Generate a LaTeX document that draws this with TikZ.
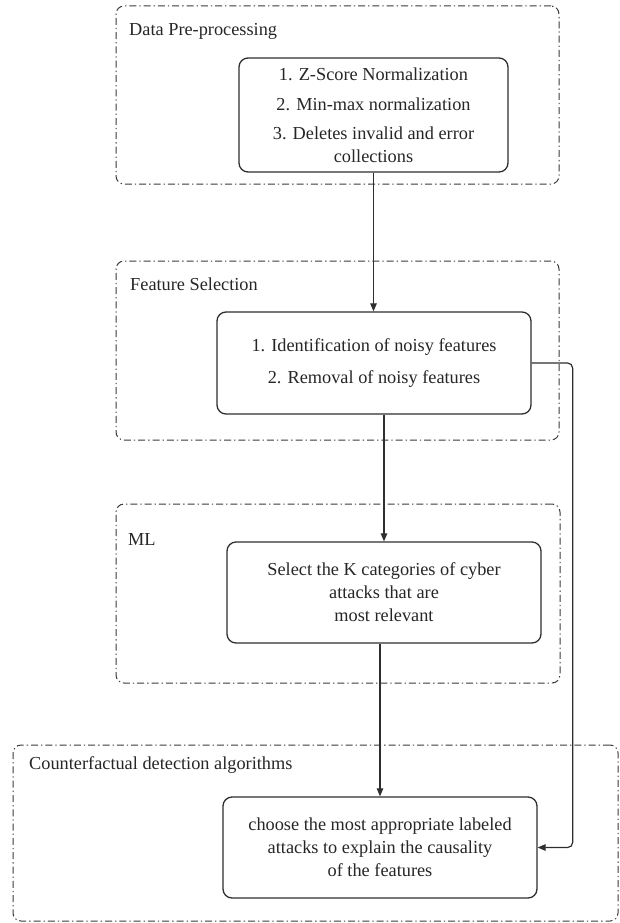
\documentclass[tikz,border=0pt]{standalone}
\usepackage{fontspec}
\setmainfont{Liberation Serif}
\usetikzlibrary{arrows.meta}
\definecolor{framegray}{HTML}{3A3A3A}
\definecolor{linegray}{HTML}{2E2E2E}
\definecolor{textgray}{HTML}{262626}
\newcommand\diagfont{\fontsize{18.3}{23}\selectfont}
\begin{document}
\begin{tikzpicture}[x=1pt,y=-1pt,
  stage/.style={draw=framegray, line width=1pt,
    dash pattern=on 7pt off 3pt on 1.3pt off 3pt,
    rounded corners=8pt, inner sep=0pt},
  stepbox/.style={draw=linegray, line width=1.3pt, rounded corners=9pt,
    inner sep=0pt, align=center, text=textgray, font=\diagfont},
  heading/.style={anchor=base west, inner sep=0pt, text=textgray, font=\diagfont},
  flow/.style={draw=linegray, line width=1.2pt,
    -{Triangle[length=8pt,width=6.5pt]}}
]
\useasboundingbox (0,0) rectangle (620,923);

% stage frames
\node[stage, minimum width=443pt, minimum height=178pt] (f1) at (337.5,95) {};
\node[stage, minimum width=443pt, minimum height=179pt] (f2) at (337.5,350.5) {};
\node[stage, minimum width=444pt, minimum height=179pt] (f3) at (338,593.5) {};
\node[stage, minimum width=605pt, minimum height=176pt] (f4) at (315.5,833) {};

% stage headings
\node[heading] (h1) at (129,36) {Data Pre-processing};
\node[heading] (h2) at (130,290) {Feature Selection};
\node[heading] (h3) at (128,545) {ML};
\node[heading] (h4) at (29,769) {Counterfactual detection algorithms};

% processing steps
\node[stepbox, minimum width=269pt, minimum height=114pt] (b1) at (373.5,115)
  {1. Z-Score Normalization\\[6.5pt]2. Min-max normalization\\[6pt]3. Deletes invalid and error\\collections};
\node[stepbox, minimum width=314pt, minimum height=102pt] (b2) at (374,363)
  {1. Identification of noisy features\\[9pt]2. Removal of noisy features};
\node[stepbox, minimum width=314pt, minimum height=101pt] (b3) at (384,592.5)
  {Select the K categories of cyber\\attacks that are\\most relevant};
\node[stepbox, minimum width=314pt, minimum height=101pt] (b4) at (380,847.5)
  {choose the most appropriate labeled\\attacks to explain the causality\\of the features};

% connectors
\draw[flow] (b1.south) -- (b1.south |- b2.north);
\draw[flow] (b3.north |- b2.south) -- (b3.north);
\draw[flow] (b4.north |- b3.south) -- (b4.north);
\draw[flow, rounded corners=5pt] (b2.east) -- ++(41,0) |- (b4.east);
\end{tikzpicture}
\end{document}
